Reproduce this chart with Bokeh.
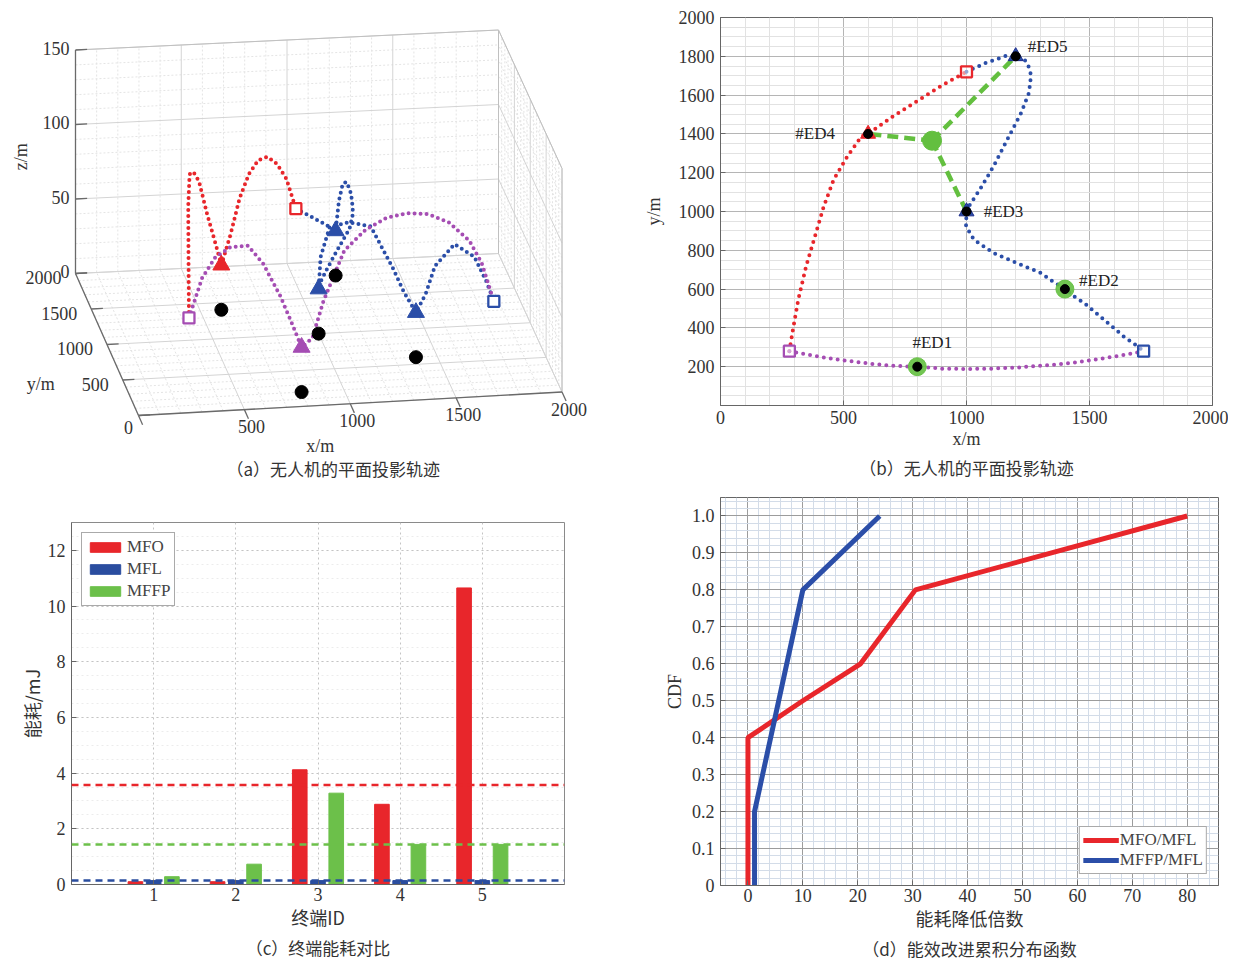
import numpy as np
from bokeh.plotting import figure
from bokeh.layouts import row, column
from bokeh.models import (Range1d, FixedTicker, SingleIntervalTicker, Title, Legend,
                          LegendItem, Span, CustomJSTickFormatter)
from bokeh.embed import file_html
from bokeh.resources import INLINE
from bokeh.core.properties import value

# ====================== data ======================
# ground end devices
ed_names = ["#ED1", "#ED2", "#ED3", "#ED4", "#ED5"]
ed_x = [800, 1400, 1000, 600, 1200]
ed_y = [200, 600, 1000, 1400, 1800]

# UAV trajectories: x, y (m) and flight height z (m)
red_x = [280, 292, 316, 348, 380, 420, 460, 516, 573, 600, 650, 700, 750, 800, 850, 900, 950, 1000]
red_y = [280, 373, 545, 717, 855, 1027, 1164, 1285, 1388, 1400, 1445, 1490, 1530, 1570, 1610, 1650, 1685, 1720]
red_z = [50, 80, 112, 125, 120, 110, 98, 70, 44, 30, 48, 70, 84, 91, 91, 84, 72, 50]

blue_x = [1000, 1078, 1158, 1200, 1215, 1232, 1246, 1258, 1262, 1254, 1222, 1166, 1110, 1054, 1014, 1000,
          998, 1030, 1110, 1206, 1302, 1350, 1400, 1440, 1479, 1559, 1639, 1690, 1720]
blue_y = [1720, 1766, 1801, 1800, 1797, 1788, 1766, 1730, 1698, 1612, 1508, 1371, 1233, 1113, 1035, 1000,
          924, 855, 786, 734, 683, 640, 600, 560, 528, 442, 356, 310, 280]
blue_z = [50, 42, 34, 30, 50, 62, 64, 60, 55, 50, 45, 43, 41, 37, 33, 30,
          55, 78, 84, 83, 57, 42, 30, 44, 64, 82, 77, 62, 50]

purple_x = [280, 340, 400, 470, 550, 620, 700, 750, 800, 850, 900, 1000, 1100, 1200, 1300, 1400, 1500, 1600, 1660, 1720]
purple_y = [280, 266, 252, 238, 225, 214, 205, 202, 200, 195, 190, 188, 190, 195, 205, 215, 232, 252, 265, 280]
purple_z = [50, 77, 91, 98, 99, 87, 65, 48, 30, 36, 60, 94, 107, 114, 116, 114, 107, 93, 77, 50]

# start / end docks (squares) and hovering height
dock_x = [280, 1000, 1720]
dock_y = [280, 1720, 280]
dock_z = 50
hover_z = 30
# hovering points (indices into ED lists)
hover_red_a, hover_blue_a, hover_purple_a = [3], [1, 2, 4], [0]
hover_red_b, hover_blue_b = [3], [2, 4]
# MFFP fixed point and its links
fp_x, fp_y = 860, 1365
fp_links = [2, 3, 4]
fp_direct = [0, 1]

# (c) energy per terminal (mJ)
term_ids = [1, 2, 3, 4, 5]
e_mfo = [0.10, 0.10, 4.12, 2.88, 10.65]
e_mfl = [0.14, 0.14, 0.14, 0.14, 0.14]
e_mffp = [0.28, 0.73, 3.28, 1.44, 1.44]

# (d) CDF of energy reduction factor
cdf_mfo_x = [0, 0, 10, 20.5, 30.5, 80]
cdf_mfo_y = [0, 0.4, 0.5, 0.6, 0.8, 1.0]
cdf_mffp_x = [1.2, 1.2, 10, 24]
cdf_mffp_y = [0, 0.2, 0.8, 1.0]

# ====================== style ======================
SERIF = "Liberation Serif"
CJK = "Noto Sans CJK SC"
TXT = "#333333"
RED = "#e8262b"
BLUE = "#2b4ea8"
PURPLE = "#a54db3"
GREEN = "#63bf3f"
BARBLUE = "#2a4d9f"
BARGREEN = "#6cc04a"
dock_colors = [PURPLE, RED, BLUE]
TICK = "18px"
LAB = "18px"
CAP = "17px"


def style_axes(p, label_font=CJK):
    for ax in p.axis:
        ax.major_label_text_font = SERIF
        ax.major_label_text_font_size = TICK
        ax.major_label_text_color = TXT
        ax.axis_label_text_font = label_font
        ax.axis_label_text_font_size = LAB
        ax.axis_label_text_font_style = "normal"
        ax.axis_label_text_color = TXT
        ax.major_tick_in = 5
        ax.major_tick_out = 0
        ax.minor_tick_in = 0
        ax.minor_tick_out = 0
        ax.axis_line_color = "#666666"
        ax.major_tick_line_color = "#666666"
        ax.major_label_standoff = 6
    p.outline_line_color = "#666666"


def caption(p, text, standoff=0):
    p.add_layout(Title(text=text, align="center", text_font=CJK, text_font_size=CAP,
                       text_font_style="normal", text_color=TXT, standoff=standoff), "below")


# ====================== (a) 3-D view ======================
ROW1_H = 482
PA_W = 618
pa = figure(width=PA_W, height=ROW1_H, x_range=Range1d(0, PA_W), y_range=Range1d(ROW1_H, 0),
            x_axis_location=None, y_axis_location=None,
            output_backend="svg", toolbar_location=None, min_border=0)
pa.grid.visible = False
pa.outline_line_color = None

XMAX, YMAX, ZMAX = 2000, 2000, 150
C00, C10, C01, C11 = (138.0, 415.0), (561.5, 391.5), (75.0, 273.0), (498.0, 253.0)
ZPX = 1.49


def proj(x, y, z):
    x = np.asarray(x, float); y = np.asarray(y, float); z = np.asarray(z, float)
    u = x / XMAX; v = y / YMAX
    w00 = (1 - u) * (1 - v); w10 = u * (1 - v); w01 = (1 - u) * v; w11 = u * v
    sx = w00 * C00[0] + w10 * C10[0] + w01 * C01[0] + w11 * C11[0]
    sy = w00 * C00[1] + w10 * C10[1] + w01 * C01[1] + w11 * C11[1] - z * ZPX
    return sx, sy


def seg(a, b):
    sx, sy = proj([a[0], b[0]], [a[1], b[1]], [a[2], b[2]])
    return list(sx), list(sy)


maj_x, maj_y, min_x, min_y = [], [], [], []


def add(a, b, major):
    sx, sy = seg(a, b)
    if major:
        maj_x.append(sx); maj_y.append(sy)
    else:
        min_x.append(sx); min_y.append(sy)


for xv in range(0, XMAX + 1, 100):
    add((xv, 0, 0), (xv, YMAX, 0), xv % 500 == 0)
    add((xv, YMAX, 0), (xv, YMAX, ZMAX), xv % 500 == 0)
for yv in range(0, YMAX + 1, 100):
    add((0, yv, 0), (XMAX, yv, 0), yv % 500 == 0)
    add((XMAX, yv, 0), (XMAX, yv, ZMAX), yv % 500 == 0)
for zv in range(0, ZMAX + 1, 10):
    add((0, YMAX, zv), (XMAX, YMAX, zv), zv % 50 == 0)
    add((XMAX, 0, zv), (XMAX, YMAX, zv), zv % 50 == 0)
pa.multi_line(min_x, min_y, line_color="#e4e4e4", line_width=1, line_dash="2 2")
pa.multi_line(maj_x, maj_y, line_color="#d4d4d4", line_width=1)

# box edges
bx, by = [], []
for a, b in [((0, YMAX, ZMAX), (XMAX, YMAX, ZMAX)), ((XMAX, 0, ZMAX), (XMAX, YMAX, ZMAX)),
             ((XMAX, 0, 0), (XMAX, 0, ZMAX)), ((XMAX, YMAX, 0), (XMAX, YMAX, ZMAX))]:
    sx, sy = seg(a, b); bx.append(sx); by.append(sy)
pa.multi_line(bx, by, line_color="#c0c0c0", line_width=1)

# axis lines and ticks
ax_x, ax_y = [], []
for a, b in [((0, YMAX, 0), (0, YMAX, ZMAX)), ((0, 0, 0), (0, YMAX, 0)), ((0, 0, 0), (XMAX, 0, 0))]:
    sx, sy = seg(a, b); ax_x.append(sx); ax_y.append(sy)
a_xticks = [0, 500, 1000, 1500, 2000]
a_yticks = [0, 500, 1000, 1500, 2000]
a_zticks = [0, 50, 100, 150]
for xv in a_xticks:
    sx, sy = seg((xv, 0, 0), (xv, -130, 0)); ax_x.append(sx); ax_y.append(sy)
for yv in a_yticks:
    sx, sy = seg((0, yv, 0), (55, yv, 0)); ax_x.append(sx); ax_y.append(sy)
for zv in a_zticks:
    sx, sy = seg((0, YMAX, zv), (55, YMAX, zv)); ax_x.append(sx); ax_y.append(sy)
pa.multi_line(ax_x, ax_y, line_color="#6a6a6a", line_width=1.3)

# tick labels
tx, ty = proj(a_xticks[1:], [0] * 4, [0] * 4)
pa.text(tx + 7, ty + 17, text=[str(v) for v in a_xticks[1:]], text_align="center", text_baseline="middle",
        text_font=value(SERIF), text_font_size=TICK, text_color=TXT)
tx, ty = proj([0] * 4, a_yticks[1:], [0] * 4)
pa.text(tx - 14, ty + 4, text=[str(v) for v in a_yticks[1:]], text_align="right", text_baseline="middle",
        text_font=value(SERIF), text_font_size=TICK, text_color=TXT)
tx, ty = proj([0], [0], [0])
pa.text(tx - 10, ty + 12, text=["0"], text_align="center", text_baseline="middle",
        text_font=value(SERIF), text_font_size=TICK, text_color=TXT)
tx, ty = proj([0] * 4, [YMAX] * 4, a_zticks)
pa.text(tx - 6, ty - 2, text=[str(v) for v in a_zticks], text_align="right", text_baseline="middle",
        text_font=value(SERIF), text_font_size=TICK, text_color=TXT)
# axis labels
lx, ly = proj([0], [YMAX], [ZMAX / 2])
pa.text(lx - 55, ly - 5, text=["z/m"], angle=np.pi / 2, text_align="center", text_baseline="middle",
        text_font=value(SERIF), text_font_size=LAB, text_color=TXT)
lx, ly = proj([0], [YMAX / 4], [0])
pa.text(lx - 82, ly + 4, text=["y/m"], text_align="center", text_baseline="middle",
        text_font=value(SERIF), text_font_size=LAB, text_color=TXT)
lx, ly = proj([XMAX / 2], [0], [0])
pa.text(lx - 30, ly + 42, text=["x/m"], text_align="center", text_baseline="middle",
        text_font=value(SERIF), text_font_size=LAB, text_color=TXT)
pa.text([lx[0] - 17], [ly[0] + 65], text=["（a）无人机的平面投影轨迹"], text_align="center",
        text_baseline="middle", text_font=value(CJK), text_font_size=CAP, text_color=TXT)

# trajectories
for xs, ys, zs, c in [(red_x, red_y, red_z, RED), (blue_x, blue_y, blue_z, BLUE),
                      (purple_x, purple_y, purple_z, PURPLE)]:
    sx, sy = proj(xs, ys, zs)
    pa.line(sx, sy, line_color=c, line_width=4, line_dash="0 6", line_cap="round")

sx, sy = proj(ed_x, ed_y, [0] * 5)
pa.scatter(sx, sy, size=13, color="black")
for idx, c in [(hover_red_a, RED), (hover_blue_a, BLUE), (hover_purple_a, PURPLE)]:
    sx, sy = proj([ed_x[i] for i in idx], [ed_y[i] for i in idx], [hover_z] * len(idx))
    pa.scatter(sx, sy, marker="triangle", size=17, fill_color=c, line_color=c)
sx, sy = proj(dock_x, dock_y, [dock_z] * 3)
pa.scatter(sx, sy, marker="square", size=11, fill_color="white", line_color=dock_colors, line_width=2.3)

# ====================== (b) planar projection ======================
pb = figure(frame_width=492, frame_height=388, x_range=Range1d(0, 2000), y_range=Range1d(0, 2000),
            min_border_left=102, min_border_right=16, min_border_top=17, min_border_bottom=77,
            output_backend="svg", toolbar_location=None)
pb.xaxis.ticker = SingleIntervalTicker(interval=500, num_minor_ticks=5)
pb.yaxis.ticker = FixedTicker(ticks=list(range(200, 2001, 200)), minor_ticks=list(range(0, 2001, 50)))
pb.xaxis.axis_label = "x/m"
pb.yaxis.axis_label = "y/m"
style_axes(pb, label_font=SERIF)
pb.xaxis.major_label_standoff = 5
pb.xaxis.axis_label_standoff = 2
pb.yaxis.axis_label_standoff = 12
for g in (pb.xgrid, pb.ygrid):
    g.grid_line_color = "#b5b5b5"
    g.minor_grid_line_color = "#e2e2e2"
caption(pb, "（b）无人机的平面投影轨迹", standoff=2)

pb.line(red_x, red_y, line_color=RED, line_width=4, line_dash="0 7", line_cap="round")
pb.line(blue_x, blue_y, line_color=BLUE, line_width=4, line_dash="0 7", line_cap="round")
pb.line(purple_x, purple_y, line_color=PURPLE, line_width=4, line_dash="0 7", line_cap="round")
pb.multi_line([[fp_x, ed_x[i]] for i in fp_links], [[fp_y, ed_y[i]] for i in fp_links],
              line_color=GREEN, line_width=4.5, line_dash="11 6")
pb.scatter(dock_x, dock_y, marker="square", size=11, fill_color="white", fill_alpha=0.5,
           line_color=dock_colors, line_width=2.3)
pb.scatter([ed_x[i] for i in hover_red_b], [ed_y[i] for i in hover_red_b], marker="triangle",
           size=15, fill_color=RED, line_color=RED)
pb.scatter([ed_x[i] for i in hover_blue_b], [ed_y[i] for i in hover_blue_b], marker="triangle",
           size=15, fill_color=BLUE, line_color="#1d2d8c")
pb.scatter([ed_x[i] for i in fp_direct], [ed_y[i] for i in fp_direct], size=18, color=GREEN, alpha=0.9)
pb.scatter([fp_x], [fp_y], size=19, color=GREEN)
pb.scatter(ed_x, ed_y, size=9, color="black")
pb.text(ed_x, ed_y, text=ed_names, x_offset=[15, 34, 37, -53, 32], y_offset=[-24, -9, 0, 0, -10],
        text_align="center", text_baseline="middle", text_font=value(SERIF), text_font_size="17px",
        text_color="#222222")

# ====================== (c) energy per terminal ======================
pc = figure(frame_width=493, frame_height=362, x_range=Range1d(0, 6), y_range=Range1d(0, 13),
            min_border_left=71, min_border_right=54, min_border_top=40, min_border_bottom=75,
            output_backend="svg", toolbar_location=None)
pc.xaxis.ticker = FixedTicker(ticks=term_ids)
pc.yaxis.ticker = SingleIntervalTicker(interval=2, num_minor_ticks=4)
pc.xaxis.axis_label = "终端ID"
pc.yaxis.axis_label = "能耗/mJ"
style_axes(pc)
pc.xaxis.major_label_standoff = 3
pc.xaxis.axis_label_standoff = 0
pc.yaxis.axis_label_standoff = 0
pc.outline_line_color = "#8a8a8a"
for g in (pc.xgrid, pc.ygrid):
    g.grid_line_color = "#c4c4c4"
    g.grid_line_dash = "2 3"
pc.ygrid.minor_grid_line_color = "#ececec"
pc.ygrid.minor_grid_line_dash = "2 3"
caption(pc, "（c）终端能耗对比", standoff=0)

BW, OFF = 0.178, 0.222
r1 = pc.vbar(x=[i - OFF for i in term_ids], top=e_mfo, width=BW, color=RED)
r2 = pc.vbar(x=term_ids, top=e_mfl, width=BW, color=BARBLUE)
r3 = pc.vbar(x=[i + OFF for i in term_ids], top=e_mffp, width=BW, color=BARGREEN)
for vals, c in [(e_mfo, RED), (e_mffp, BARGREEN), (e_mfl, BARBLUE)]:
    pc.add_layout(Span(location=float(np.mean(vals)), dimension="width", line_color=c,
                       line_width=2.5, line_dash="7 5"))
leg_c = Legend(items=[LegendItem(label="MFO", renderers=[r1]), LegendItem(label="MFL", renderers=[r2]),
                      LegendItem(label="MFFP", renderers=[r3])],
               location="top_left", margin=10, padding=4, spacing=2, glyph_width=38, glyph_height=12,
               label_standoff=3, label_text_font=SERIF, label_text_font_size="17px",
               label_height=18, border_line_color="#555555", background_fill_alpha=1.0)
pc.add_layout(leg_c)

# ====================== (d) CDF ======================
pd = figure(frame_width=498, frame_height=388, x_range=Range1d(-5, 85.7), y_range=Range1d(0, 1.05),
            min_border_left=102, min_border_right=10, min_border_top=15, min_border_bottom=74,
            output_backend="svg", toolbar_location=None)
pd.xaxis.ticker = SingleIntervalTicker(interval=10, num_minor_ticks=5)
pd.yaxis.ticker = SingleIntervalTicker(interval=0.1, num_minor_ticks=5)
pd.yaxis.formatter = CustomJSTickFormatter(code="return Math.abs(tick) < 1e-9 ? '0' : tick.toFixed(1);")
pd.xaxis.axis_label = "能耗降低倍数"
pd.yaxis.axis_label = "CDF"
style_axes(pd)
pd.xaxis.major_label_standoff = 3
pd.xaxis.axis_label_standoff = 0
pd.yaxis.axis_label_text_font = SERIF
pd.yaxis.axis_label_standoff = 4
for g in (pd.xgrid, pd.ygrid):
    g.grid_line_color = "#9c9c9c"
    g.minor_grid_line_color = "#d3dce8"
caption(pd, "（d）能效改进累积分布函数", standoff=0)

l1 = pd.line(cdf_mfo_x, cdf_mfo_y, line_color=RED, line_width=5)
l2 = pd.line(cdf_mffp_x, cdf_mffp_y, line_color=BLUE, line_width=5)
leg_d = Legend(items=[LegendItem(label="MFO/MFL", renderers=[l1]), LegendItem(label="MFFP/MFL", renderers=[l2])],
               location="bottom_right", margin=11, padding=3, spacing=0, glyph_width=36, glyph_height=16,
               label_standoff=1, label_text_font=SERIF, label_text_font_size="17px", label_height=17,
               border_line_color="#555555", background_fill_alpha=1.0)
pd.add_layout(leg_d)

# each plot sits in its own column so that Bokeh does not align plot frames across a row
layout = column(row(column(pa), column(pb)), row(column(pc), column(pd)))
open("out.html", "w").write(file_html(layout, INLINE))
